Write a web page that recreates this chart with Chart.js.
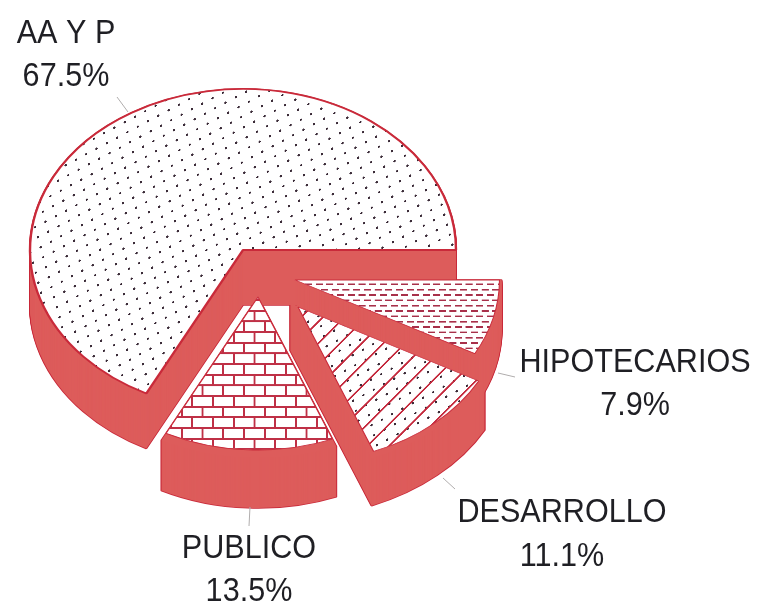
<!DOCTYPE html>
<html><head><meta charset="utf-8">
<script src="https://cdn.jsdelivr.net/npm/chart.js@4"></script>
<style>html,body{margin:0;padding:0;background:#fff}canvas{display:block}</style>
</head><body><canvas id="c" width="758" height="613"></canvas>
<script>
// Data, clockwise from the east
const categories = ['HIPOTECARIOS','DESARROLLO','PUBLICO','AA Y P'];
const values = [7.9, 11.1, 13.5, 67.5];
const valueLabels = ['7.9%','11.1%','13.5%','67.5%'];

// Exploded 3D layout
const RX = 213, TILT = 0.756;
const faceX = [295, 298, 258, 243];
const faceY = [280, 307, 297, 250];
const wallX = [295, 290, 258, 243];
const wallY = [280, 303, 297, 250];
const wallScale = [0.97, 1.04, 1, 1];
const faceScale = [0.96, 0.965, 0.95, 1];
const faceEdge = [1.1, 1.1, 1.1, 2.4];
const depth = [50, 47, 50, 55];
const drawOrder = [3, 0, 1, 2];

// Label layout
const labelX = [635, 562, 249, 66];
const nameBase = [372, 522, 558, 43];
const pctBase = [415, 566, 601, 86];
const leaders = [[498,373,515,377],[443,478,455,489],[250,507,249,526],[117,97,128,112]];

const WALL = '#dd5c5b', EDGE = '#c92a3a', DOT = '#3b2b38';

function tile(paint){
  const t = document.createElement('canvas'); t.width = t.height = 64;
  paint(t.getContext('2d'));
  return t;
}
function pat(paint, m){
  return {p: document.getElementById('c').getContext('2d').createPattern(tile(paint),'repeat'), m: new DOMMatrix(m)};
}
const sc = 1/64;
const dots = pat(g=>{g.fillStyle=DOT;g.beginPath();g.arc(32,32,7,0,7);g.fill();},
  [10.3*sc,-5.5*sc,2.7*sc,10*sc,135-6.5,116.7-2.25]);
const hatch = pat(g=>{g.strokeStyle='#c4283c';g.lineWidth=5;
  [[0,64,64,0],[-32,32,32,-32],[32,96,96,32]].forEach(l=>{g.beginPath();g.moveTo(l[0],l[1]);g.lineTo(l[2],l[3]);g.stroke();});},
  [21.67*sc,0,0,21.67*sc,11.6,0]);
const dashes = pat(g=>{g.fillStyle='#a8304a';
  g.fillRect(0,0,42,10); g.fillRect(32,32,32,10); g.fillRect(0,32,10,10);},
  [10.7*sc,0,0,10.67*sc,401.3,283.5]);
const bricks = pat(g=>{g.fillStyle='#bf3046';
  g.fillRect(0,0,64,6);g.fillRect(0,32,64,6);
  g.fillRect(29,0,6,32);g.fillRect(0,32,3,32);g.fillRect(61,32,3,32);},
  [20.8*sc,0,0,21.33*sc,181.7,395]);
const layers = [[dashes],[dots,hatch],[bricks],[dots]];

const explode3d = {
  id:'explode3d',
  beforeDatasetDraw(chart,args){
    const ctx = chart.ctx, arcs = args.meta.data;
    const place = (a,x,y,s)=>{
      ctx.translate(x,y);
      ctx.scale(s, s*TILT);
      ctx.translate(-a.x,-a.y);
    };
    const paint = (a,over)=>{
      const c = Object.create(a);
      c.options = Object.assign(Object.create(a.options), over);
      a.draw.call(c, ctx);
    };
    // walls: dark rim of the whole body first, then its fill on top
    for(const pass of [0,1]){
      drawOrder.forEach(i=>{
        const a = arcs[i];
        for(let d=depth[i]; d>=0; d--){
          ctx.save(); place(a,wallX[i],wallY[i]+d,wallScale[i]);
          paint(a, pass===0
            ? {backgroundColor:EDGE,borderColor:EDGE,borderWidth:2}
            : {backgroundColor:WALL,borderColor:WALL,borderWidth:0});
          ctx.restore();
        }
      });
    }
    // top faces
    drawOrder.forEach(i=>{
      const a = arcs[i];
      ctx.save(); place(a,faceX[i],faceY[i],faceScale[i]);
      paint(a,{backgroundColor:'#fff',borderWidth:0});
      layers[i].forEach(l=>{
        l.p.setTransform(ctx.getTransform().inverse().multiply(l.m));
        paint(a,{backgroundColor:l.p,borderWidth:0});
      });
      paint(a,{backgroundColor:'rgba(0,0,0,0)',borderColor:EDGE,borderWidth:faceEdge[i]});
      ctx.restore();
    });
    return false;
  },
  afterDraw(chart){
    const ctx = chart.ctx;
    ctx.save();
    ctx.strokeStyle='#b0adad'; ctx.lineWidth=1;
    leaders.forEach(l=>{ctx.beginPath();ctx.moveTo(l[0],l[1]);ctx.lineTo(l[2],l[3]);ctx.stroke();});
    ctx.fillStyle='#1f1f24'; ctx.textAlign='center'; ctx.textBaseline='alphabetic';
    ctx.font='30px "Liberation Sans", Arial, sans-serif';
    const put = (t,x,y)=>{ctx.save();ctx.translate(x,y);ctx.scale(1.02,1.1);ctx.fillText(t,0,0);ctx.restore();};
    categories.forEach((n,i)=>{
      put(n,labelX[i],nameBase[i]);
      put(valueLabels[i],labelX[i],pctBase[i]);
    });
    ctx.restore();
  }
};

new Chart(document.getElementById('c'),{
  type:'pie',
  data:{labels:categories,datasets:[{data:values,radius:RX,backgroundColor:'#fff',borderColor:EDGE,borderWidth:1.6,borderAlign:'center'}]},
  options:{
    responsive:false,animation:false,rotation:90,
    layout:{padding:0},
    plugins:{legend:{display:false},tooltip:{enabled:false}}
  },
  plugins:[explode3d]
});
</script>
</body></html>
